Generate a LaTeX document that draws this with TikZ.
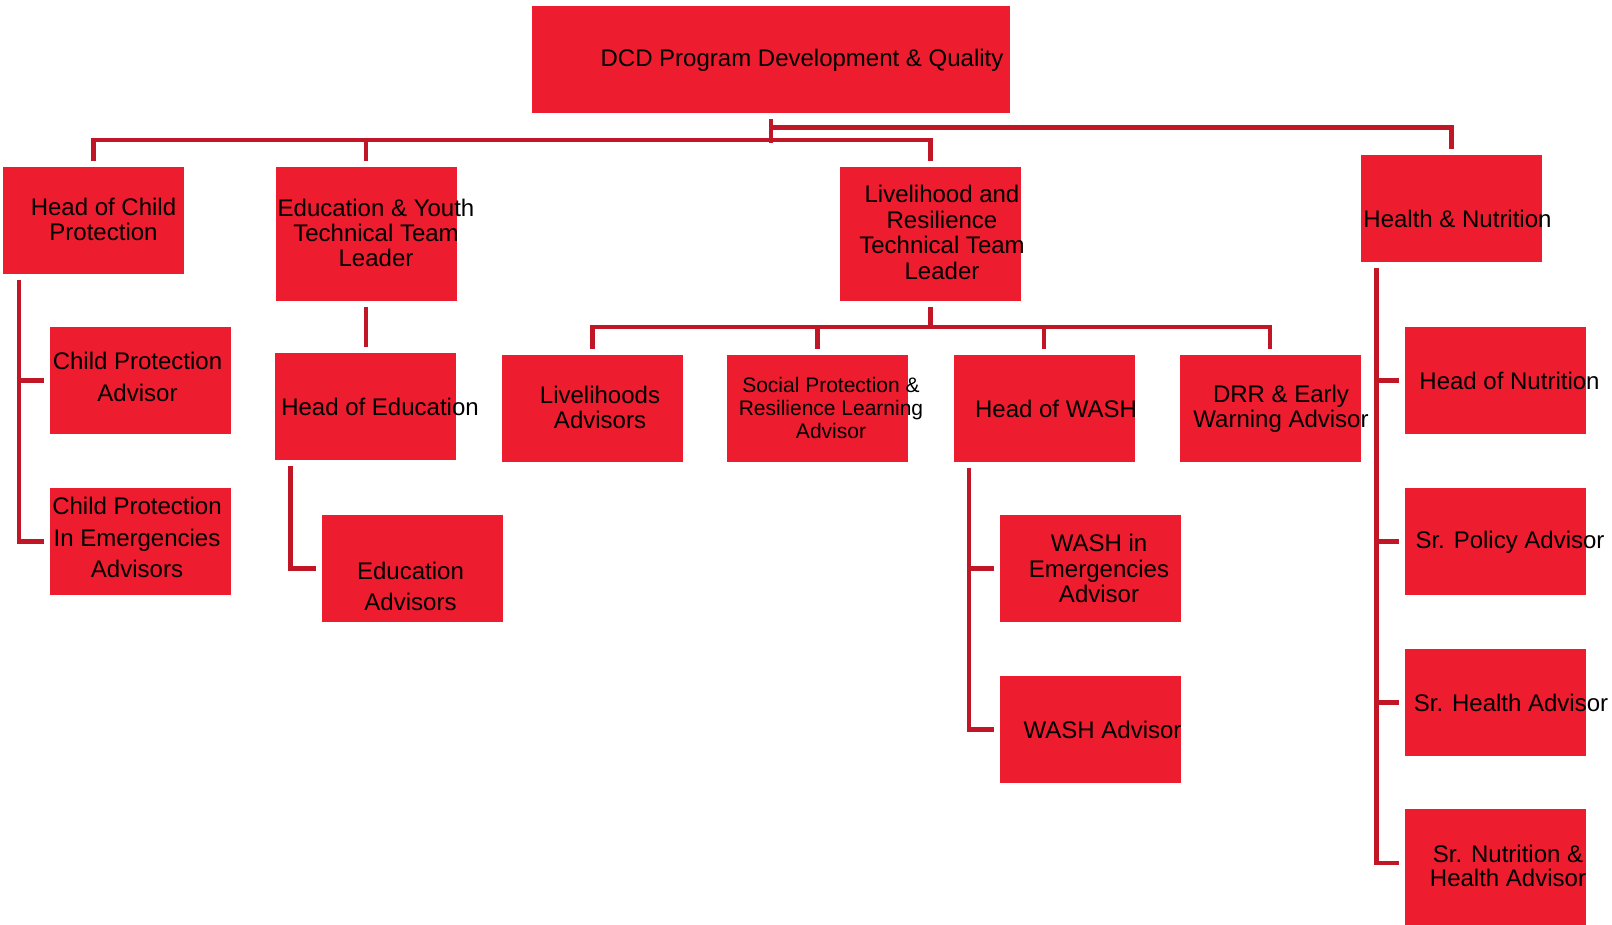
\documentclass[tikz,border=0pt]{standalone}
\usepackage{fontspec}
\setmainfont{Liberation Sans}
\usetikzlibrary{calc}
\definecolor{boxred}{RGB}{237,28,46}
\definecolor{linered}{RGB}{192,22,38}
\begin{document}
\begin{tikzpicture}[x=1pt,y=-1pt,
  box/.style={fill=boxred, draw=none, minimum width=181pt, minimum height=107pt, inner sep=0pt, outer sep=0pt},
  tallbox/.style={minimum height=134pt},
  txt/.style={font=\fontsize{24}{24.7}\selectfont, align=center, inner sep=0pt, text=black},
  wide/.style={font=\fontsize{24}{31.5}\selectfont},
  smalltxt/.style={font=\fontsize{21}{23.3}\selectfont},
  conn/.style={draw=linered, line width=4.7pt, line join=miter, line cap=butt}]
\useasboundingbox (0,0) rectangle (1612,924);
\clip (0,0) rectangle (1612,924);
% boxes
\node[box, minimum width=478pt] (top) at (771,59.5) {};
\node[box] (hcp) at (93.5,220.5) {};
\node[box, tallbox] (edu) at (366,234) {};
\node[box, tallbox] (liv) at (930.5,234) {};
\node[box] (hn) at (1451.5,208.75) {};
\node[box] (cpa) at (140,380.75) {};
\node[box] (cpie) at (140,541.5) {};
\node[box] (hedu) at (365,406.5) {};
\node[box] (eda) at (412.75,568.75) {};
\node[box] (livs) at (592.5,408.5) {};
\node[box] (soc) at (817.5,408.5) {};
\node[box] (wash) at (1044,408.5) {};
\node[box] (drr) at (1270,408.5) {};
\node[box] (wie) at (1090.5,568.75) {};
\node[box] (wa) at (1090.5,729.5) {};
\node[box] (hnut) at (1495.5,380.75) {};
\node[box] (spa) at (1495.5,541.5) {};
\node[box] (sha) at (1495.5,702.5) {};
\node[box, minimum height=125pt] (snh) at (1495.5,871.5) {};
% texts
\node[txt] (ttop) at (802,60) {DCD Program Development \& Quality};
\node[txt] (thcp) at (103.5,219.5) {Head of Child\\Protection};
\node[txt] (tedu) at (376,232.8) {Education \& Youth\\Technical Team\\Leader};
\node[txt, font=\fontsize{24}{25.5}\selectfont] (tliv) at (942,232.5) {Livelihood and\\Resilience\\Technical Team\\Leader};
\node[txt] (thn) at (1457.5,218.5) {Health \& Nutrition};
\node[txt, wide] (tcpa) at (137.5,377) {Child Protection\\Advisor};
\node[txt, wide] (tcpie) at (137,537.5) {Child Protection\\In Emergencies\\Advisors};
\node[txt] (thedu) at (380,406.5) {Head of Education};
\node[txt, wide] (teda) at (410.5,586.5) {Education\\Advisors};
\node[txt] (tlivs) at (600,407.5) {Livelihoods\\Advisors};
\node[txt, smalltxt] (tsoc) at (831,408) {Social Protection \&\\Resilience Learning\\Advisor};
\node[txt] (twash) at (1056,408.5) {Head of WASH};
\node[txt] (tdrr) at (1281,409) {DRR \& Early\\Warning Advisor};
\node[txt, font=\fontsize{24}{25.5}\selectfont] (twie) at (1099,568.5) {WASH in\\Emergencies\\Advisor};
\node[txt] (twa) at (1102.6,729.5) {WASH Advisor};
\node[txt] (thnut) at (1509.5,380.5) {Head of Nutrition};
\node[txt] (tspa) at (1510,542) {Sr. Policy Advisor};
\node[txt] (tsha) at (1511,702.5) {Sr. Health Advisor};
\node[txt] (tsnh) at (1508,866) {Sr. Nutrition \&\\Health Advisor};
% connectors: top level
\draw[conn] ($(top.south)+(0,6)$) -- ($(top.south)+(0,29.5)$);
\draw[conn] ($(top.south)+(0,14.5)$) -| ($(hn.north)+(0,-6)$);
\draw[conn] ($(hcp.north)+(0,-6)$) |- ($(top.south)+(0,27)$) -| ($(liv.north)+(0,-6)$);
\draw[conn] ($(edu.north)+(0,-6)$) -- ($(edu.north)+(0,-29.3)$);
% livelihood row
\draw[conn] ($(liv.south)+(0,6)$) -- ($(liv.south)+(0,26)$);
\draw[conn] ($(livs.north)+(0,-6)$) |- ($(liv.south)+(0,26)$) -| ($(drr.north)+(0,-6)$);
\draw[conn] ($(soc.north)+(0,-6)$) -- ($(soc.north)+(0,-29.8)$);
\draw[conn] ($(wash.north)+(0,-6)$) -- ($(wash.north)+(0,-29.8)$);
% education chain
\draw[conn] ($(edu.south)+(0,6)$) -- ($(edu.south |- hedu.north)+(0,-6)$);
\draw[conn] ($(hedu.south west)+(16,6)$) |- ($(eda.west)+(-6,0)$);
% child protection chain
\draw[conn] ($(hcp.south west)+(16,6)$) |- ($(cpie.west)+(-6,0)$);
\draw[conn] ($(cpa.west)+(-6,0)$) -- ($(cpa.west -| hcp.south west)+(16,0)$);
% WASH chain
\draw[conn] ($(wash.south west)+(15.5,6)$) |- ($(wa.west)+(-6,0)$);
\draw[conn] ($(wie.west)+(-6,0)$) -- ($(wie.west -| wash.south west)+(15.5,0)$);
% health chain
\draw[conn] ($(hn.south west)+(15.5,6)$) |- ($(snh.west |- sha.west)+(-6,160.5)$);
\draw[conn] ($(hnut.west)+(-6,0)$) -- ($(hnut.west -| hn.south west)+(15.5,0)$);
\draw[conn] ($(spa.west)+(-6,0)$) -- ($(spa.west -| hn.south west)+(15.5,0)$);
\draw[conn] ($(sha.west)+(-6,0)$) -- ($(sha.west -| hn.south west)+(15.5,0)$);
\end{tikzpicture}
\end{document}
